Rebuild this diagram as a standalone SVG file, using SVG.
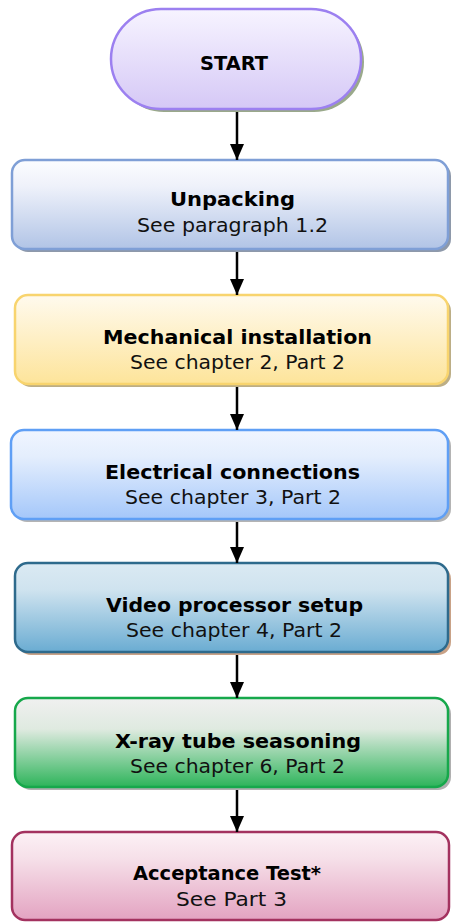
<svg xmlns="http://www.w3.org/2000/svg" width="451" height="922" viewBox="0 0 451 922">
<style>
.t{font-family:"DejaVu Sans","Liberation Sans",sans-serif;font-weight:bold;font-size:20px;fill:#000;text-anchor:middle}
.s{font-family:"DejaVu Sans","Liberation Sans",sans-serif;font-size:19px;fill:#111;text-anchor:middle}
.box{stroke-width:2.5}
.conn{stroke:#000;stroke-width:2.5;fill:none}
</style>
<defs>
<linearGradient id="gStart" x1="0" y1="0" x2="0" y2="1"><stop offset="0" stop-color="#f7f4ff"/><stop offset="1" stop-color="#d5c8f6"/></linearGradient>
<linearGradient id="g1" x1="0" y1="0" x2="0" y2="1"><stop offset="0" stop-color="#fcfdff"/><stop offset="0.3" stop-color="#eef1fa"/><stop offset="1" stop-color="#b1c4e6"/></linearGradient>
<linearGradient id="g2" x1="0" y1="0" x2="0" y2="1"><stop offset="0" stop-color="#fffaee"/><stop offset="1" stop-color="#fde49a"/></linearGradient>
<linearGradient id="g3" x1="0" y1="0" x2="0" y2="1"><stop offset="0" stop-color="#f0f5ff"/><stop offset="0.3" stop-color="#e4eefd"/><stop offset="1" stop-color="#a4c7fa"/></linearGradient>
<linearGradient id="g4" x1="0" y1="0" x2="0" y2="1"><stop offset="0" stop-color="#dbeaf3"/><stop offset="0.3" stop-color="#cfe3ef"/><stop offset="1" stop-color="#6aacd2"/></linearGradient>
<linearGradient id="g5" x1="0" y1="0" x2="0" y2="1"><stop offset="0" stop-color="#f0f0f0"/><stop offset="0.35" stop-color="#dfeae0"/><stop offset="1" stop-color="#2db45a"/></linearGradient>
<linearGradient id="g6" x1="0" y1="0" x2="0" y2="1"><stop offset="0" stop-color="#fcf1f5"/><stop offset="0.3" stop-color="#f6e0e9"/><stop offset="1" stop-color="#e3a3c1"/></linearGradient>
<marker id="arr" markerUnits="userSpaceOnUse" markerWidth="16" markerHeight="18" refX="16" refY="8" orient="auto" viewBox="0 0 16 16">
<path d="M0,1 L16,8 L0,15 Z" fill="#000"/>
</marker>
</defs>

<g id="start">
<rect x="114" y="12" width="250" height="100" rx="50" fill="#9aa98b"/>
<rect class="box" x="111" y="9" width="250" height="100" rx="50" fill="url(#gStart)" stroke="#9c80f0"/>
<text class="t" x="234" y="70" font-size="25" textLength="68" lengthAdjust="spacingAndGlyphs">START</text>
</g>

<g id="unpacking">
<rect x="15" y="163" width="436" height="89" rx="13" fill="#8e99aa"/>
<rect class="box" x="12" y="160" width="436" height="89" rx="13" fill="url(#g1)" stroke="#7f9fd6"/>
<text class="t" x="232.5" y="206" textLength="125" lengthAdjust="spacingAndGlyphs">Unpacking</text>
<text class="s" x="232.5" y="232" textLength="191" lengthAdjust="spacingAndGlyphs">See paragraph 1.2</text>
</g>

<g id="mechanical">
<rect x="18" y="298" width="433" height="89" rx="13" fill="#bcae86"/>
<rect class="box" x="15" y="295" width="433" height="89" rx="13" fill="url(#g2)" stroke="#f8d46e"/>
<text class="t" x="237.5" y="344" textLength="269" lengthAdjust="spacingAndGlyphs">Mechanical installation</text>
<text class="s" x="237.5" y="369" textLength="215" lengthAdjust="spacingAndGlyphs">See chapter 2, Part 2</text>
</g>

<g id="electrical">
<rect x="14" y="433" width="437" height="89" rx="13" fill="#b4b4b4"/>
<rect class="box" x="11" y="430" width="437" height="89" rx="13" fill="url(#g3)" stroke="#5f9ff5"/>
<text class="t" x="232.5" y="479" textLength="255" lengthAdjust="spacingAndGlyphs">Electrical connections</text>
<text class="s" x="233" y="504" textLength="216" lengthAdjust="spacingAndGlyphs">See chapter 3, Part 2</text>
</g>

<g id="video">
<rect x="18" y="566" width="433" height="89" rx="13" fill="#c9a287"/>
<rect class="box" x="15" y="563" width="433" height="89" rx="13" fill="url(#g4)" stroke="#2e6a8c"/>
<text class="t" x="234.5" y="612" textLength="257" lengthAdjust="spacingAndGlyphs">Video processor setup</text>
<text class="s" x="234" y="637" textLength="216" lengthAdjust="spacingAndGlyphs">See chapter 4, Part 2</text>
</g>

<g id="xray">
<rect x="18" y="701" width="433" height="89" rx="13" fill="#b0b0b0"/>
<rect class="box" x="15" y="698" width="433" height="89" rx="13" fill="url(#g5)" stroke="#16a84b"/>
<text class="t" x="238" y="748" textLength="246" lengthAdjust="spacingAndGlyphs">X-ray tube seasoning</text>
<text class="s" x="237.5" y="773" textLength="215" lengthAdjust="spacingAndGlyphs">See chapter 6, Part 2</text>
</g>

<g id="acceptance">
<rect class="box" x="12" y="832" width="437" height="88" rx="13" fill="url(#g6)" stroke="#a3325f"/>
<text class="t" x="227" y="880" textLength="188" lengthAdjust="spacingAndGlyphs">Acceptance Test*</text>
<text class="s" x="231.5" y="906" textLength="111" lengthAdjust="spacingAndGlyphs">See Part 3</text>
</g>

<g id="connectors">
<line class="conn" x1="237" y1="112" x2="237" y2="160" marker-end="url(#arr)"/>
<line class="conn" x1="237" y1="252" x2="237" y2="295" marker-end="url(#arr)"/>
<line class="conn" x1="237" y1="387" x2="237" y2="430" marker-end="url(#arr)"/>
<line class="conn" x1="237" y1="522" x2="237" y2="563" marker-end="url(#arr)"/>
<line class="conn" x1="237" y1="655" x2="237" y2="698" marker-end="url(#arr)"/>
<line class="conn" x1="237" y1="790" x2="237" y2="832" marker-end="url(#arr)"/>
</g>
</svg>
